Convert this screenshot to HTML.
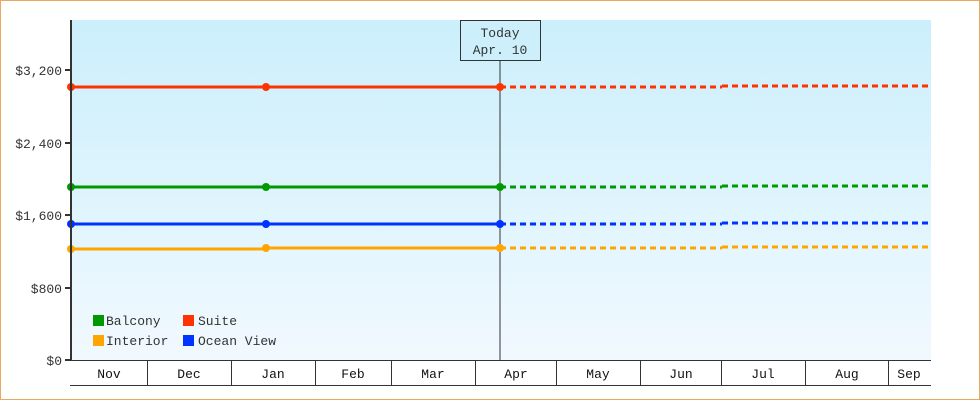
<!DOCTYPE html>
<html><head><style>
body{margin:0;background:#fff}
svg{display:block;font-family:"Liberation Mono",monospace}
</style></head><body>
<svg width="980" height="400" viewBox="0 0 980 400">
<defs><linearGradient id="g" x1="0" y1="0" x2="0" y2="1"><stop offset="0" stop-color="#cbeffc"/><stop offset="1" stop-color="#f1f9fe"/></linearGradient></defs>
<rect x="0.5" y="0.5" width="979" height="399" fill="#fff" stroke="#e8a860"/>
<rect x="71" y="20" width="860" height="340" fill="url(#g)"/>
<g stroke="#333" stroke-width="1">
<line x1="500" y1="60" x2="500" y2="360"/>
</g>
<rect x="460.5" y="20.5" width="80" height="40" fill="#cdeffc" stroke="#333"/>
<text x="500" y="37" font-size="13" fill="#333" text-anchor="middle">Today</text>
<text x="500" y="54" font-size="13" fill="#333" text-anchor="middle">Apr. 10</text>
<g stroke-width="3" fill="none">
<polyline points="71,87 500,87" stroke="#ff3300"/>
<polyline points="500,87 722,87" stroke="#ff3300" stroke-dasharray="6,4"/>
<polyline points="722,86 931,86" stroke="#ff3300" stroke-dasharray="6,4"/>
<polyline points="71,187 500,187" stroke="#009900"/>
<polyline points="500,187 722,187" stroke="#009900" stroke-dasharray="6,4"/>
<polyline points="722,186 931,186" stroke="#009900" stroke-dasharray="6,4"/>
<polyline points="71,224 500,224" stroke="#0033ff"/>
<polyline points="500,224 722,224" stroke="#0033ff" stroke-dasharray="6,4"/>
<polyline points="722,223 931,223" stroke="#0033ff" stroke-dasharray="6,4"/>
<polyline points="71,249 266,249" stroke="#ffa500"/>
<polyline points="266,248 500,248" stroke="#ffa500"/>
<polyline points="500,248 722,248" stroke="#ffa500" stroke-dasharray="6,4"/>
<polyline points="722,247 931,247" stroke="#ffa500" stroke-dasharray="6,4"/>
</g>
<g>
<circle cx="71" cy="87" r="4" fill="#ff3300"/><circle cx="266" cy="87" r="4" fill="#ff3300"/><circle cx="500" cy="87" r="4" fill="#ff3300"/>
<circle cx="71" cy="187" r="4" fill="#009900"/><circle cx="266" cy="187" r="4" fill="#009900"/><circle cx="500" cy="187" r="4" fill="#009900"/>
<circle cx="71" cy="224" r="4" fill="#0033ff"/><circle cx="266" cy="224" r="4" fill="#0033ff"/><circle cx="500" cy="224" r="4" fill="#0033ff"/>
<circle cx="71" cy="249" r="4" fill="#ffa500"/><circle cx="266" cy="248" r="4" fill="#ffa500"/><circle cx="500" cy="248" r="4" fill="#ffa500"/>
</g>
<g stroke="#333" stroke-width="2">
<line x1="71" y1="20" x2="71" y2="361"/>
<line x1="65" y1="70" x2="71" y2="70"/><line x1="65" y1="143" x2="71" y2="143"/><line x1="65" y1="215" x2="71" y2="215"/><line x1="65" y1="288" x2="71" y2="288"/><line x1="65" y1="360" x2="71" y2="360"/>
</g>
<g font-size="13" fill="#333" text-anchor="end">
<text x="62" y="75">$3,200</text><text x="62" y="148">$2,400</text><text x="62" y="220">$1,600</text><text x="62" y="293">$800</text><text x="62" y="365">$0</text>
</g>
<g stroke="#333" stroke-width="1">
<line x1="70" y1="360.5" x2="931" y2="360.5"/>
<line x1="70" y1="385.5" x2="931" y2="385.5"/>
<line x1="147.5" y1="360" x2="147.5" y2="385"/><line x1="231.5" y1="360" x2="231.5" y2="385"/><line x1="315.5" y1="360" x2="315.5" y2="385"/><line x1="391.5" y1="360" x2="391.5" y2="385"/><line x1="475.5" y1="360" x2="475.5" y2="385"/><line x1="556.5" y1="360" x2="556.5" y2="385"/><line x1="640.5" y1="360" x2="640.5" y2="385"/><line x1="721.5" y1="360" x2="721.5" y2="385"/><line x1="805.5" y1="360" x2="805.5" y2="385"/><line x1="888.5" y1="360" x2="888.5" y2="385"/>
</g>
<g font-size="13" fill="#111" text-anchor="middle">
<text x="109" y="378">Nov</text><text x="189" y="378">Dec</text><text x="273" y="378">Jan</text><text x="353" y="378">Feb</text><text x="433" y="378">Mar</text><text x="516" y="378">Apr</text><text x="598" y="378">May</text><text x="681" y="378">Jun</text><text x="763" y="378">Jul</text><text x="847" y="378">Aug</text><text x="909" y="378">Sep</text>
</g>
<rect x="93" y="315" width="11" height="11" fill="#009900"/>
<rect x="183" y="315" width="11" height="11" fill="#ff3300"/>
<rect x="93" y="335" width="11" height="11" fill="#ffa500"/>
<rect x="183" y="335" width="11" height="11" fill="#0033ff"/>
<g font-size="13" fill="#333">
<text x="106" y="325">Balcony</text><text x="198" y="325">Suite</text>
<text x="106" y="345">Interior</text><text x="198" y="345">Ocean View</text>
</g>
</svg>
</body></html>
